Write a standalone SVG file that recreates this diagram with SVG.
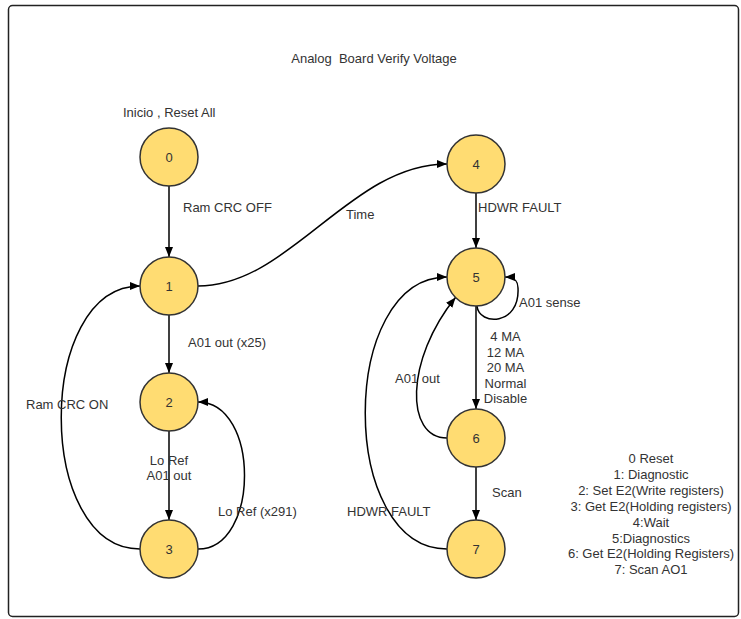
<svg xmlns="http://www.w3.org/2000/svg" width="741" height="619" viewBox="0 0 741 619">
<defs>
<style>
text{font-family:"Liberation Sans",Arial,sans-serif;font-size:13px;fill:#333}
.n circle{fill:#ffdc72;stroke:#333;stroke-width:1.5}
.n text{text-anchor:middle;font-size:13px}
.c path{fill:none;stroke:#000;stroke-width:1.5;marker-end:url(#ah)}
.m{text-anchor:middle}
.pre{white-space:pre}
</style>
<marker id="ah" viewBox="0 0 10 8" refX="10" refY="4" markerWidth="10" markerHeight="8" markerUnits="userSpaceOnUse" orient="auto">
<path d="M0,0 L10,4 L0,8 Z" fill="#000"/>
</marker>
</defs>
<rect x="8.5" y="5.5" width="730" height="611" rx="4" fill="#fff" stroke="#222" stroke-width="1.5"/>
<text x="374" y="63" class="m pre" xml:space="preserve">Analog  Board Verify Voltage</text>

<g class="c" id="connectors">
<path d="M169,186 L169,257"/>
<path d="M169,315 L169,373"/>
<path d="M169,431 L169,520"/>
<path d="M476,193 L476,248"/>
<path d="M476,306 L476,409"/>
<path d="M476,467 L476,520"/>
<path d="M198,286 C290,286 350,164 447,164"/>
<path d="M140,549 C35,549 35,286 140,286"/>
<path d="M198,549 C260,549 260,402 198,402"/>
<path d="M447,438 C405,438 405,360 455.5,297.5"/>
<path d="M447,549 C338,549 338,277 447,277"/>
<path d="M477,306 C479,326 520,326 518,288 C518,280 514,277 505,277"/>
</g>

<g id="labels">
<text x="123" y="117">Inicio , Reset All</text>
<text x="183" y="212">Ram CRC OFF</text>
<text x="346" y="219">Time</text>
<text x="188" y="347">A01 out (x25)</text>
<text x="26" y="409">Ram CRC ON</text>
<text x="169" y="465" class="m">Lo Ref</text>
<text x="169" y="480" class="m">A01 out</text>
<text x="218" y="516">Lo Ref (x291)</text>
<text x="478" y="212">HDWR FAULT</text>
<text x="519" y="307">A01 sense</text>
<text x="505.5" y="341" class="m">4 MA</text>
<text x="505.5" y="356.5" class="m">12 MA</text>
<text x="505.5" y="372" class="m">20 MA</text>
<text x="505.5" y="387.5" class="m">Normal</text>
<text x="505.5" y="403" class="m">Disable</text>
<text x="395" y="383">A01 out</text>
<text x="492" y="497">Scan</text>
<text x="347" y="516">HDWR FAULT</text>
</g>

<g id="legend" class="m">
<text x="651" y="463" class="m">0 Reset</text>
<text x="651" y="479" class="m">1: Diagnostic</text>
<text x="651" y="495" class="m">2: Set E2(Write registers)</text>
<text x="651" y="511" class="m">3: Get E2(Holding registers)</text>
<text x="651" y="526.5" class="m">4:Wait</text>
<text x="651" y="542.5" class="m">5:Diagnostics</text>
<text x="651" y="558" class="m">6: Get E2(Holding Registers)</text>
<text x="651" y="574" class="m">7: Scan AO1</text>
</g>

<g id="node0" class="n"><circle cx="169" cy="157" r="29"/><text x="169" y="162">0</text></g>
<g id="node1" class="n"><circle cx="169" cy="286" r="29"/><text x="169" y="291">1</text></g>
<g id="node2" class="n"><circle cx="169" cy="402" r="29"/><text x="169" y="407">2</text></g>
<g id="node3" class="n"><circle cx="169" cy="549" r="29"/><text x="169" y="554">3</text></g>
<g id="node4" class="n"><circle cx="476" cy="164" r="29"/><text x="476" y="169">4</text></g>
<g id="node5" class="n"><circle cx="476" cy="277" r="29"/><text x="476" y="282">5</text></g>
<g id="node6" class="n"><circle cx="476" cy="438" r="29"/><text x="476" y="443">6</text></g>
<g id="node7" class="n"><circle cx="476" cy="549" r="29"/><text x="476" y="554">7</text></g>
</svg>
